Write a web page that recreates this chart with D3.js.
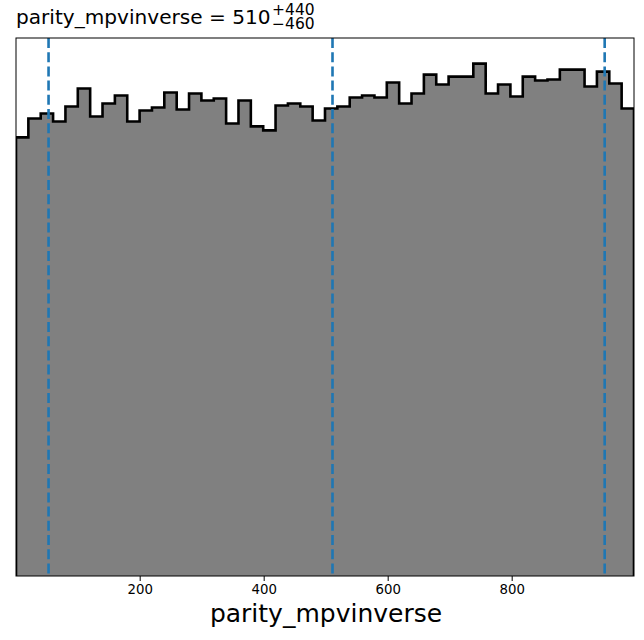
<!DOCTYPE html>
<html>
<head>
<meta charset="utf-8">
<script src="https://cdn.jsdelivr.net/npm/d3@7"></script>
<style>
  html, body { margin: 0; padding: 0; background: #fff; }
  svg { display: block; }
  text { font-family: "DejaVu Sans", sans-serif; }
</style>
</head>
<body>
<svg id="chart" width="644" height="640"></svg>
<script>
// ---- data ----
const paramName = "parity_mpvinverse";
const dataMin = 0.5;
const dataMax = 997.3;
const nBins = 50;
const binCounts = [
  440, 459, 464, 456, 471, 489, 461, 474, 482, 456,
  467, 470, 485, 468, 484, 477, 479, 454, 477, 451,
  447, 472, 474, 471, 457, 469, 471, 480, 482, 480,
  495, 474, 484, 503, 493, 501, 501, 514, 484, 493,
  481, 501, 497, 498, 508, 508, 491, 506, 494, 469
];
const quantiles = [53, 511, 950];          // 16th, 50th, 84th percentiles
const titleMain = "510";
const titleUpper = "+440";
const titleLower = "\u2212460";
const xTicks = [200, 400, 600, 800];

// ---- layout ----
const svg = d3.select("#chart");
const L = 16, R = 634, T = 38, B = 576;

const x = d3.scaleLinear().domain([dataMin, dataMax]).range([L, R]);
const yMax = d3.max(binCounts) * 1.05;
const y = d3.scaleLinear().domain([0, yMax]).range([B, T]);

const binW = (dataMax - dataMin) / nBins;
const bins = binCounts.map((c, i) => ({ x0: dataMin + i * binW, x1: dataMin + (i + 1) * binW, c }));

// step path points
const pts = [[bins[0].x0, 0]];
bins.forEach(b => { pts.push([b.x0, b.c]); pts.push([b.x1, b.c]); });
pts.push([bins[bins.length - 1].x1, 0]);

const line = d3.line().x(d => x(d[0])).y(d => y(d[1]));

svg.append("defs").append("clipPath").attr("id", "clip")
  .append("rect").attr("x", L).attr("y", T).attr("width", R - L).attr("height", B - T);

const g = svg.append("g").attr("clip-path", "url(#clip)");

g.append("path")
  .attr("d", line(pts) + "Z")
  .attr("fill", "#808080").attr("stroke", "none");

g.append("path").attr("d", line(pts))
  .attr("fill", "none").attr("stroke", "#000").attr("stroke-width", 2.6)
  .attr("stroke-linejoin", "miter");

g.selectAll("line.q").data(quantiles).enter().append("line")
  .attr("class", "q")
  .attr("x1", d => x(d)).attr("x2", d => x(d))
  .attr("y1", T).attr("y2", B)
  .attr("stroke", "#1f77b4").attr("stroke-width", 2.6)
  .attr("stroke-dasharray", "10,4.2");

// frame
svg.append("rect").attr("x", L).attr("y", T).attr("width", R - L).attr("height", B - T)
  .attr("fill", "none").attr("stroke", "#000").attr("stroke-width", 1);

// x axis
const xAxis = d3.axisBottom(x).tickValues(xTicks).tickSize(5).tickPadding(4).tickFormat(d3.format("d"));
const ax = svg.append("g").attr("transform", `translate(0,${B})`).call(xAxis);
ax.select(".domain").remove();
ax.selectAll("line").attr("stroke", "#000").attr("stroke-width", 1);
ax.selectAll("text").attr("font-size", "13.3px").attr("fill", "#000")
  .attr("font-family", "DejaVu Sans, sans-serif");

// x label
svg.append("text").attr("x", (L + R) / 2 + 1).attr("y", 622)
  .attr("text-anchor", "middle").attr("font-size", "25px").attr("fill", "#000")
  .text(paramName);

// title
const tMain = svg.append("text").attr("x", 16).attr("y", 24)
  .attr("font-size", "20.1px").attr("fill", "#000")
  .text(paramName + " = " + titleMain);
const wMain = tMain.node().getComputedTextLength();
const sx = 16 + wMain + 1.5;
svg.append("text").attr("x", sx).attr("y", 14.5)
  .attr("font-size", "15.5px").attr("fill", "#000").text(titleUpper);
svg.append("text").attr("x", sx).attr("y", 29)
  .attr("font-size", "15.5px").attr("fill", "#000").text(titleLower);
</script>
</body>
</html>
